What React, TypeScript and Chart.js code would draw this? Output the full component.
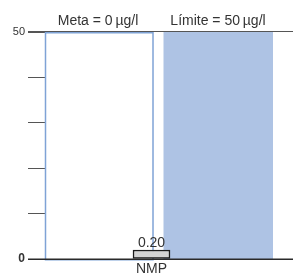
import React, { useEffect, useRef } from "react";
import { Chart, registerables } from "chart.js";

Chart.register(...registerables);

const categories = ["NMP"];
const values = [0.2];
const valueLabels = ["0.20"];
const yTicksShown = [0, 50];
const metaValue = 0;
const limitValue = 50;
const metaLabel = "Meta = 0\u2009µg/l";
const limitLabel = "Límite = 50\u2009µg/l";

const FONT = "'Liberation Sans', Arial, sans-serif";

const boxesPlugin = {
  id: "boxes",
  beforeDatasetsDraw(chart: any) {
    const { ctx, chartArea, scales } = chart;
    const y = scales.y;
    const top = y.getPixelForValue(limitValue);
    const bottom = y.getPixelForValue(metaValue);
    const L = chartArea.left;
    ctx.save();
    // Meta box
    ctx.fillStyle = "#ffffff";
    ctx.fillRect(L, top, 108, bottom - top);
    ctx.strokeStyle = "#7fa3d6";
    ctx.lineWidth = 1.5;
    ctx.strokeRect(L + 0.5, top + 0.75, 107.5, bottom - top);
    // Limite box
    ctx.fillStyle = "#aec3e4";
    ctx.fillRect(L + 118.5, top, 109.5, bottom - top);
    // lines at 0 and 50
    ctx.lineWidth = 1;
    ctx.strokeStyle = "#555555";
    ctx.beginPath();
    ctx.moveTo(28, Math.round(top) - 0.5);
    ctx.lineTo(chart.width, Math.round(top) - 0.5);
    ctx.stroke();
    ctx.lineWidth = 1.6;
    ctx.strokeStyle = "#2a2a2a";
    ctx.beginPath();
    ctx.moveTo(28, bottom + 0.3);
    ctx.lineTo(chart.width, bottom + 0.3);
    ctx.stroke();
    // titles
    ctx.fillStyle = "#333333";
    ctx.font = `14px ${FONT}`;
    ctx.textAlign = "center";
    ctx.textBaseline = "alphabetic";
    ctx.fillText(metaLabel, L + 53, 25);
    ctx.fillText(limitLabel, L + 173, 25);
    ctx.restore();
  },
  afterDatasetsDraw(chart: any) {
    const { ctx } = chart;
    const meta = chart.getDatasetMeta(0);
    ctx.save();
    ctx.fillStyle = "#333333";
    ctx.font = `14px ${FONT}`;
    ctx.textAlign = "center";
    ctx.textBaseline = "alphabetic";
    meta.data.forEach((el: any, i: number) => {
      ctx.fillText(valueLabels[i], el.x, el.y - 3);
    });
    ctx.restore();
  },
};

export default function App() {
  const ref = useRef<HTMLCanvasElement | null>(null);
  useEffect(() => {
    if (!ref.current) return;
    const chart = new Chart(ref.current, {
      type: "bar",
      data: {
        labels: categories,
        datasets: [
          {
            data: values,
            backgroundColor: "#d3d3d3",
            borderColor: "#1a1a1a",
            borderWidth: 1.5,
            borderSkipped: false,
            barThickness: 37,
            minBarLength: 9,
          },
        ],
      },
      options: {
        animation: false,
        responsive: false,
        maintainAspectRatio: false,
        layout: { padding: { top: 32, right: 35, left: 0, bottom: 0 } },
        plugins: { legend: { display: false }, tooltip: { enabled: false } },
        scales: {
          x: {
            type: "category",
            grid: { display: false },
            border: { display: false },
            ticks: {
              color: "#333333",
              font: { family: FONT, size: 14 },
              padding: -6,
            },
            afterFit: (s: any) => {
              s.height = 19;
            },
          },
          y: {
            min: 0,
            max: 50,
            border: { display: false },
            grid: {
              drawOnChartArea: false,
              tickLength: 17,
              tickColor: "#555555",
            },
            ticks: {
              stepSize: 10,
              padding: 3,
              color: "#333333",
              callback: (v: any) => (yTicksShown.includes(Number(v)) ? String(v) : ""),
              font: (c: any) =>
                c.tick && c.tick.value === 0
                  ? { family: FONT, size: 12, weight: "bold" }
                  : { family: FONT, size: 11 },
            },
            afterFit: (s: any) => {
              s.width = 45;
            },
          },
        },
      },
      plugins: [boxesPlugin],
    });
    return () => chart.destroy();
  }, []);
  return (
    <div style={{ position: "absolute", left: 0, top: 0, width: 293, height: 278 }}>
      <canvas ref={ref} width={293} height={278} style={{ width: 293, height: 278 }} />
    </div>
  );
}
